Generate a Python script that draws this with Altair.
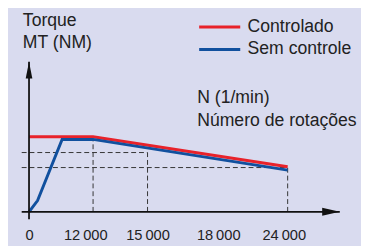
import altair as alt
import pandas as pd

# ---- data ----
series_names = ["Controlado", "Sem controle"]
red_rpm = [0, 12000, 24000]
red_torque = [100, 100, 60]
blue_rpm = [0, 1600, 6200, 12000, 24000]
blue_torque = [0, 15, 96.5, 96.5, 55.5]

tick_values = [0, 12000, 15000, 18000, 24000]

# dashed guide lines
h_guide_torque = [79, 59]
h_guide_end = [15000, 24000]
v_guide_rpm = [12000, 15000, 24000]
v_guide_top = [96.5, 79, 59.5]

axis_min_rpm, axis_max_rpm = -1400, 27000
axis_min_torque, axis_max_torque = -10, 200

RED = "#E8222A"
BLUE = "#11509E"
BG = "#D9DBEF"
TXT = "#222222"
FONT = "Liberation Sans"
TFS = 18

lines_df = pd.DataFrame(
    {
        "rpm": red_rpm + blue_rpm,
        "torque": red_torque + blue_torque,
        "serie": [series_names[0]] * len(red_rpm) + [series_names[1]] * len(blue_rpm),
        "order": list(range(len(red_rpm))) + list(range(len(blue_rpm))),
    }
)
h_df = pd.DataFrame(
    {"rpm": [axis_min_rpm] * len(h_guide_torque), "rpm2": h_guide_end, "torque": h_guide_torque}
)
v_df = pd.DataFrame({"rpm": v_guide_rpm, "torque": [0] * len(v_guide_rpm), "torque2": v_guide_top})
xaxis_df = pd.DataFrame({"rpm": [axis_min_rpm], "rpm2": [axis_max_rpm], "torque": [0]})
yaxis_df = pd.DataFrame({"rpm": [0], "torque": [axis_min_torque], "torque2": [axis_max_torque]})
xarrow_df = pd.DataFrame({"rpm": [axis_max_rpm], "torque": [0]})
yarrow_df = pd.DataFrame({"rpm": [0], "torque": [axis_max_torque]})

xscale = alt.Scale(
    domain=[axis_min_rpm, 0, 12000, 15000, 18000, 24000, axis_max_rpm],
    range=[14, 21.5, 87, 142.7, 215, 286, 339.3],
    zero=False,
    nice=False,
)
yscale = alt.Scale(
    domain=[axis_min_torque, axis_max_torque], range=[213.4, 52.3], zero=False, nice=False
)

xaxis = alt.Axis(
    values=tick_values,
    domain=False,
    ticks=False,
    grid=False,
    labelExpr="replace(format(datum.value, ','), ',', '\u2009')",
    labelFont=FONT,
    labelFontSize=15,
    labelColor=TXT,
    labelPadding=16,
    labelOffset={
        "condition": [
            {"test": "datum.value == 12000", "value": -8},
            {"test": "datum.value == 24000", "value": -4},
        ],
        "value": 0,
    },
    title=["N (1/min)", "Número de rotações"],
    titleFont=FONT,
    titleFontSize=TFS,
    titleFontWeight="normal",
    titleColor=TXT,
    titleAngle=0,
    titleAlign="left",
    titleBaseline="alphabetic",
    titleLineHeight=23,
    titleX=193,
    titleY=-111.7,
)
yaxis = alt.Axis(
    domain=False,
    ticks=False,
    labels=False,
    grid=False,
    title=["Torque", "MT (NM)"],
    titleFont=FONT,
    titleFontSize=TFS,
    titleFontWeight="normal",
    titleColor=TXT,
    titleAngle=0,
    titleAlign="left",
    titleBaseline="alphabetic",
    titleLineHeight=23,
    titleX=14.7,
    titleY=14.7,
)

X = alt.X("rpm:Q", scale=xscale, axis=xaxis)
Y = alt.Y("torque:Q", scale=yscale, axis=yaxis)

dash = dict(strokeDash=[5, 3], color="#333333", strokeWidth=1)

h_guides = alt.Chart(h_df).mark_rule(**dash).encode(x=X, x2="rpm2:Q", y=Y)
v_guides = alt.Chart(v_df).mark_rule(**dash).encode(x=X, y=Y, y2="torque2:Q")

x_line = alt.Chart(xaxis_df).mark_rule(color="#111111", strokeWidth=1.8).encode(x=X, x2="rpm2:Q", y=Y)
y_line = alt.Chart(yaxis_df).mark_rule(color="#111111", strokeWidth=1.8).encode(x=X, y=Y, y2="torque2:Q")

x_arrow = alt.Chart(xarrow_df).mark_point(
    shape="M0,0L-2,-0.45L-2,0.45Z", filled=True, color="#111111", opacity=1, size=324
).encode(x=X, y=Y)
y_arrow = alt.Chart(yarrow_df).mark_point(
    shape="M0,0L-0.4,2L0.4,2Z", filled=True, color="#111111", opacity=1, size=289
).encode(x=X, y=Y)

lines = alt.Chart(lines_df).mark_line(strokeWidth=3).encode(
    x=X,
    y=Y,
    order="order:O",
    color=alt.Color(
        "serie:N",
        scale=alt.Scale(domain=series_names, range=[RED, BLUE]),
        legend=alt.Legend(
            orient="none",
            legendX=194,
            legendY=4.8,
            title=None,
            symbolType="M-1,0L3,0",
            symbolSize=441,
            symbolStrokeWidth=3,
            labelFont=FONT,
            labelFontSize=TFS,
            labelColor=TXT,
            labelOffset=27,
            rowPadding=2,
            padding=0,
        ),
    ),
)

chart = (
    alt.layer(h_guides, v_guides, lines, x_line, y_line, x_arrow, y_arrow)
    .properties(
        width=361,
        height=206,
        background=BG,
        padding={"left": 0, "top": 0, "right": 0, "bottom": 32},
        autosize=alt.AutoSizeParams(type="none"),
    )
    .configure_view(stroke=None)
)

chart.save("out.html", embed_options={"renderer": "svg", "actions": False})
